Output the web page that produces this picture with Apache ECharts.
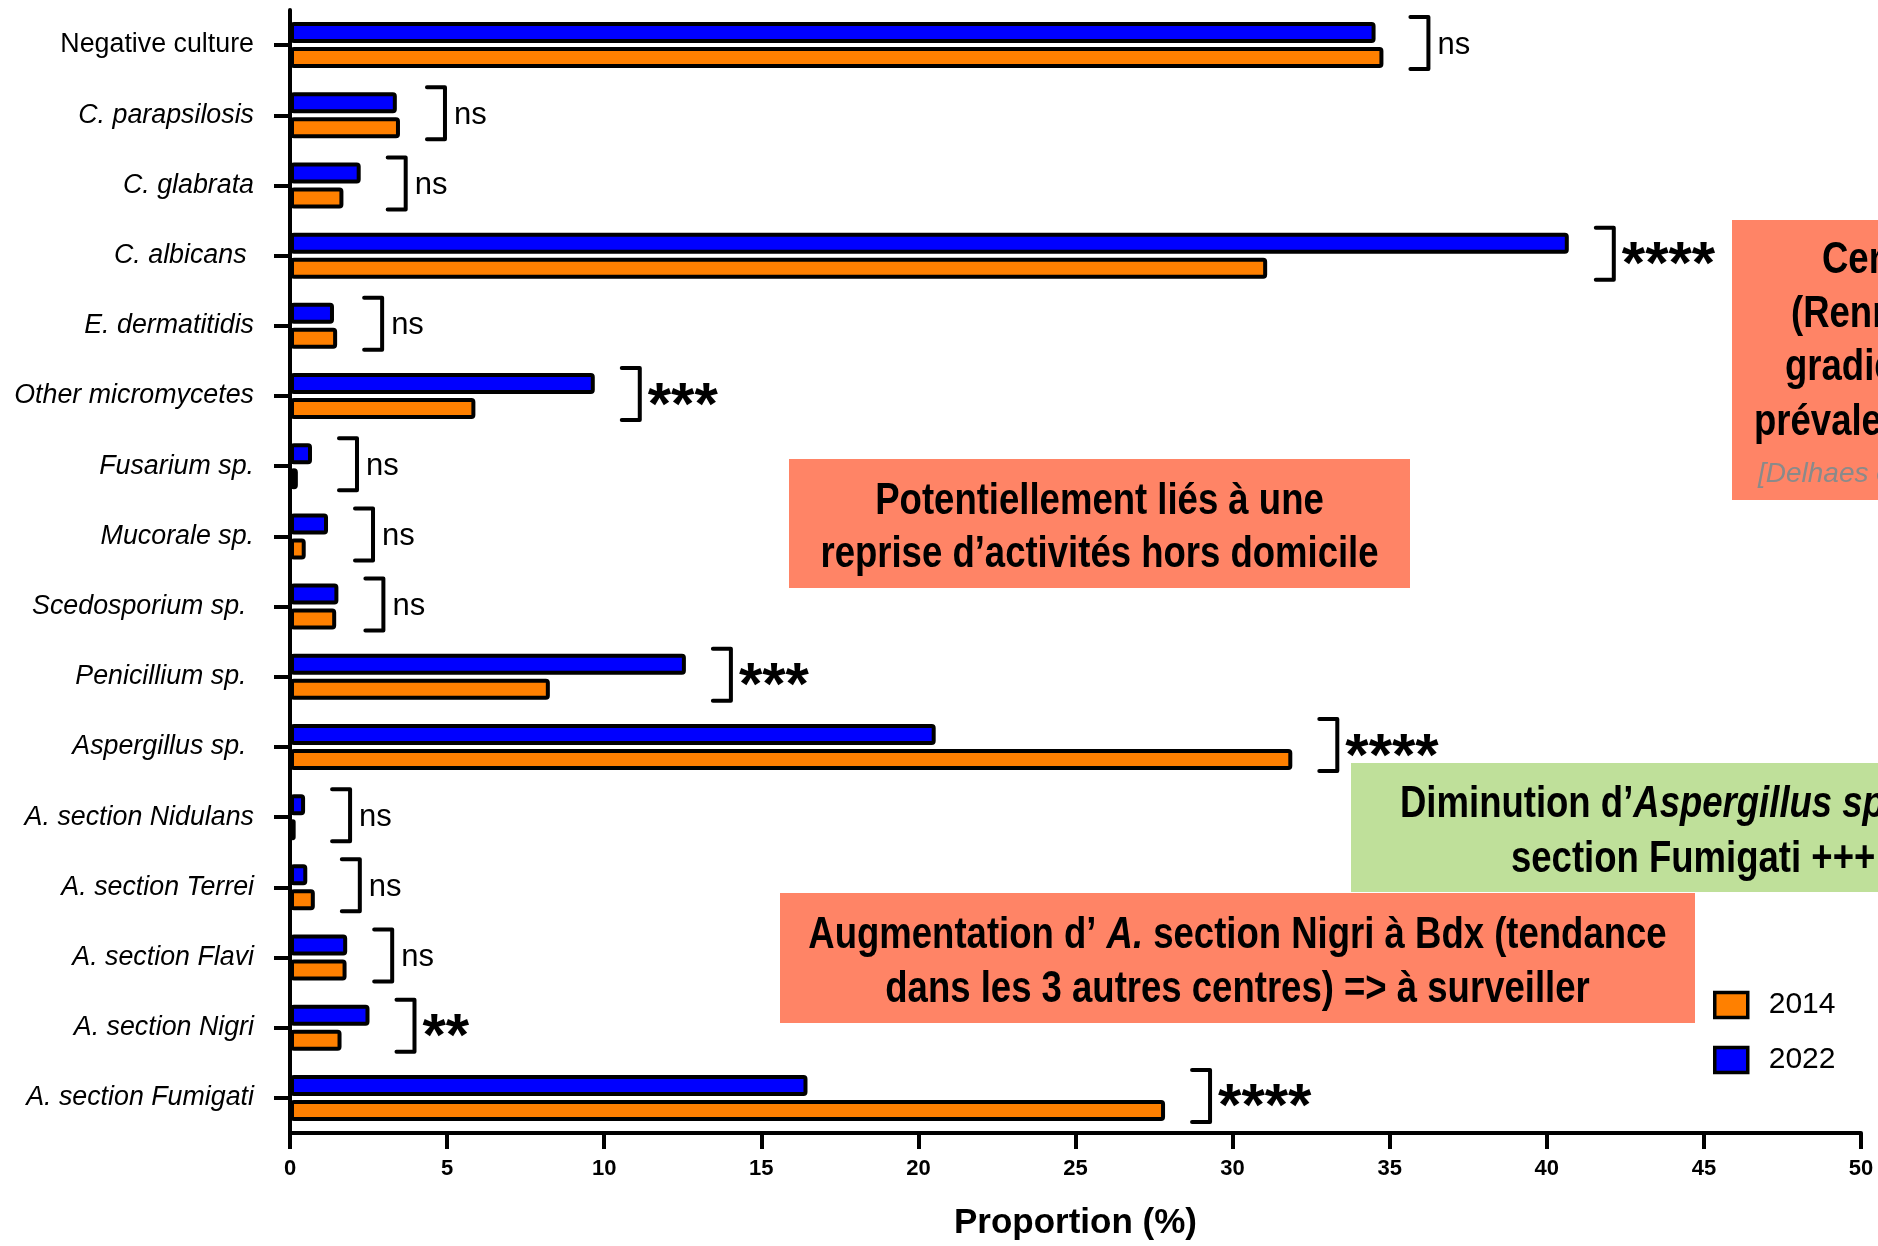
<!DOCTYPE html>
<html>
<head>
<meta charset="utf-8">
<script src="https://cdn.jsdelivr.net/npm/echarts@6/dist/echarts.min.js"></script>
<style>
  html, body { margin: 0; padding: 0; background: #ffffff; }
  #chart { width: 1878px; height: 1246px; }
</style>
</head>
<body>
<div id="chart"></div>
<script>
// Fungal culture results, proportion (%) per organism, 2014 vs 2022
const categories = [
  'Negative culture', 'C. parapsilosis', 'C. glabrata', 'C. albicans ', 'E. dermatitidis',
  'Other micromycetes', 'Fusarium sp.', 'Mucorale sp.', 'Scedosporium sp. ', 'Penicillium sp. ',
  'Aspergillus sp. ', 'A. section Nidulans', 'A. section Terrei', 'A. section Flavi',
  'A. section Nigri', 'A. section Fumigati'
];
const values2014 = [34.8, 3.5, 1.7, 31.1, 1.5, 5.9, 0.25, 0.5, 1.47, 8.27, 31.9, 0.18, 0.79, 1.8, 1.64, 27.85];
const values2022 = [34.55, 3.4, 2.25, 40.7, 1.4, 9.7, 0.7, 1.21, 1.54, 12.6, 20.55, 0.48, 0.55, 1.82, 2.53, 16.47];
const significance = ['ns', 'ns', 'ns', '****', 'ns', '***', 'ns', 'ns', 'ns', '***', '****', 'ns', 'ns', 'ns', '**', '****'];
const seriesNames = ['2014', '2022'];
const xTicks = { min: 0, max: 50, interval: 5 };

const FONT = "'Liberation Sans', Arial, Helvetica, sans-serif";
const ORANGE = '#FF8000';
const BLUE = '#0000FF';
const SALMON = '#FF8466';
const GREEN = '#BFE09A';

const chart = echarts.init(document.getElementById('chart'), null, { renderer: 'canvas' });

// comparison brackets sit just right of the longer bar of each pair
const bracketData = categories.map((c, i) => [Math.max(values2014[i], values2022[i]), c, significance[i]]);

function renderBracket(params, api) {
  const pt = api.coord([api.value(0), api.value(1)]);
  const xLine = pt[0] + 45;
  const xArm = xLine - 18;
  const yTop = pt[1] - 28;
  const yBot = pt[1] + 24;
  const label = significance[params.dataIndex];
  const isStars = label !== 'ns';
  return {
    type: 'group',
    children: [
      {
        type: 'polyline',
        shape: { points: [[xArm, yTop], [xLine, yTop], [xLine, yBot], [xArm, yBot]] },
        style: { stroke: '#000', lineWidth: 4, fill: null, lineJoin: 'round', lineCap: 'round' }
      },
      {
        type: 'text',
        x: xLine + (isStars ? 8 : 9),
        y: pt[1] + (isStars ? 11 : 0),
        style: {
          text: label,
          fill: '#000',
          fontFamily: FONT,
          fontSize: isStars ? 60 : 31,
          fontWeight: isStars ? 'bold' : 'normal',
          align: 'left',
          verticalAlign: 'middle'
        }
      }
    ]
  };
}

// condensed bold caption text for the annotation boxes
function caption(text, x, y, align) {
  return {
    type: 'text',
    x: x, y: y, scaleX: 0.83, z: 110,
    style: {
      text: text, fill: '#000',
      fontFamily: FONT, fontSize: 44, fontWeight: 'bold',
      align: align, verticalAlign: 'middle',
      textAlign: align, textVerticalAlign: 'middle',
      rich: {
        it: { fontFamily: FONT, fontSize: 44, fontWeight: 'bold', fontStyle: 'italic', fill: '#000' },
        rg: { fontFamily: FONT, fontSize: 44, fontWeight: 'bold', fill: '#000' }
      }
    }
  };
}

const barStyle = (color) => ({ color: color, borderColor: '#000', borderWidth: 4, borderRadius: 2 });

const option = {
  backgroundColor: '#ffffff',
  animation: false,
  grid: { left: 290, right: 17, top: 10, bottom: 108, containLabel: false },
  legend: {
    data: seriesNames,
    orient: 'vertical',
    left: 1713,
    top: 990,
    padding: 0,
    itemWidth: 33,
    itemHeight: 25,
    itemGap: 25,
    icon: 'rect',
    itemStyle: { borderColor: '#000', borderWidth: 3.5 },
    textStyle: { fontFamily: FONT, fontSize: 30, color: '#000', padding: [0, 0, 0, 16], lineHeight: 25 }
  },
  xAxis: {
    type: 'value',
    min: xTicks.min,
    max: xTicks.max,
    interval: xTicks.interval,
    name: 'Proportion (%)',
    nameLocation: 'middle',
    nameGap: 73,
    nameTextStyle: { fontFamily: FONT, fontSize: 35, fontWeight: 'bold', color: '#000' },
    axisLine: { show: true, lineStyle: { color: '#000', width: 4 } },
    axisTick: { show: true, length: 16, lineStyle: { color: '#000', width: 4 } },
    splitLine: { show: false },
    axisLabel: { fontFamily: FONT, fontSize: 22, fontWeight: 'bold', color: '#000', margin: 25 }
  },
  yAxis: {
    type: 'category',
    inverse: true,
    data: categories,
    axisLine: { show: true, onZero: false, lineStyle: { color: '#000', width: 4 } },
    axisTick: { show: true, alignWithLabel: true, length: 16, lineStyle: { color: '#000', width: 4 } },
    splitLine: { show: false },
    axisLabel: {
      margin: 36,
      formatter: (v, i) => (i === 0 ? '{n|' + v + '}' : '{i|' + v + '}'),
      rich: {
        n: { fontFamily: FONT, fontSize: 26.8, color: '#000' },
        i: { fontFamily: FONT, fontSize: 26.8, fontStyle: 'italic', color: '#000' }
      }
    }
  },
  series: [
    // 2022 is listed first so its bar sits above the 2014 bar in each pair
    {
      name: seriesNames[1],
      type: 'bar',
      data: values2022,
      barWidth: 21,
      barGap: '19%',
      itemStyle: barStyle(BLUE)
    },
    {
      name: seriesNames[0],
      type: 'bar',
      data: values2014,
      barWidth: 21,
      barGap: '19%',
      itemStyle: barStyle(ORANGE)
    },
    {
      type: 'custom',
      name: 'significance',
      renderItem: renderBracket,
      encode: { x: 0, y: 1 },
      data: bracketData,
      z: 5,
      silent: true
    }
  ],
  graphic: [
    // reprise d'activités
    { type: 'rect', z: 100, shape: { x: 789, y: 459, width: 621, height: 129 }, style: { fill: SALMON } },
    caption('Potentiellement liés à une', 1099.5, 501.5, 'center'),
    caption('reprise d\u2019activités hors domicile', 1099.5, 555, 'center'),

    // gradient box on the right edge
    { type: 'rect', z: 100, shape: { x: 1732, y: 220, width: 160, height: 280 }, style: { fill: SALMON } },
    caption('Centres', 1822, 261, 'left'),
    caption('(Rennes', 1791, 315, 'left'),
    caption('gradient', 1785, 368, 'left'),
    caption('prévalence', 1754, 423, 'left'),
    {
      type: 'text', x: 1758, y: 474, z: 110,
      style: {
        text: '[Delhaes et al.]', fill: '#8A8A8A', fontFamily: FONT, fontSize: 28,
        fontStyle: 'italic', align: 'left', verticalAlign: 'middle',
        textAlign: 'left', textVerticalAlign: 'middle'
      }
    },

    // Aspergillus decrease
    { type: 'rect', z: 100, shape: { x: 1351, y: 763, width: 540, height: 129 }, style: { fill: GREEN } },
    caption('{rg|Diminution d\u2019}{it|Aspergillus sp.}', 1400, 805, 'left'),
    caption('section Fumigati +++', 1511, 859.5, 'left'),

    // Nigri increase
    { type: 'rect', z: 100, shape: { x: 780, y: 893, width: 915, height: 130 }, style: { fill: SALMON } },
    caption('{rg|Augmentation d\u2019 }{it|A.}{rg| section Nigri à Bdx (tendance}', 1237.5, 935.5, 'center'),
    caption('dans les 3 autres centres) => à surveiller', 1237.5, 989.5, 'center')
  ]
};

chart.setOption(option);
</script>
</body>
</html>
